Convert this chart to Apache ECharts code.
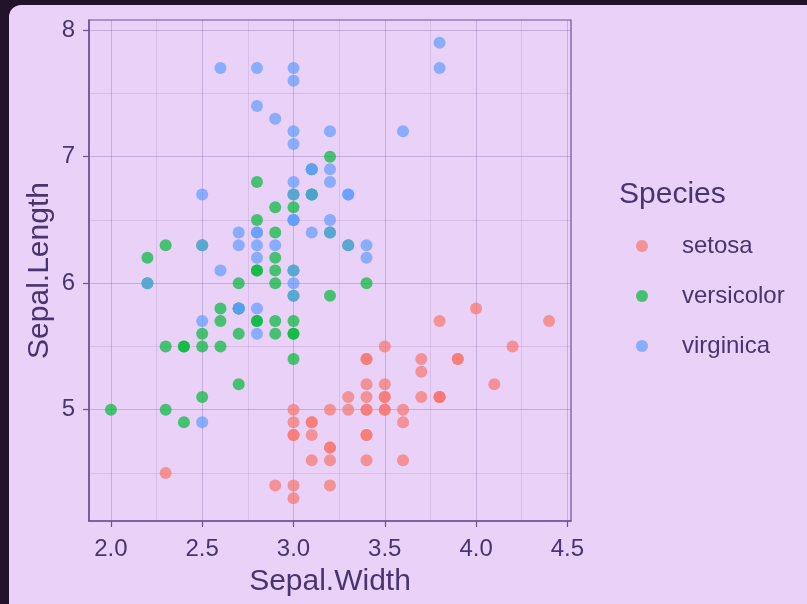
<!DOCTYPE html>
<html>
<head>
<meta charset="utf-8">
<script src="https://cdn.jsdelivr.net/npm/echarts@6/dist/echarts.min.js"></script>
<style>
html,body{margin:0;padding:0;background:#22122b;}
#c{width:807px;height:604px;}
</style>
</head>
<body>
<div id="c"></div>
<script>
// [Sepal.Width, Sepal.Length]
const setosa = [[3.5,5.1],[3.0,4.9],[3.2,4.7],[3.1,4.6],[3.6,5.0],[3.9,5.4],[3.4,4.6],[3.4,5.0],[2.9,4.4],[3.1,4.9],
[3.7,5.4],[3.4,4.8],[3.0,4.8],[3.0,4.3],[4.0,5.8],[4.4,5.7],[3.9,5.4],[3.5,5.1],[3.8,5.7],[3.8,5.1],
[3.4,5.4],[3.7,5.1],[3.6,4.6],[3.3,5.1],[3.4,4.8],[3.0,5.0],[3.4,5.0],[3.5,5.2],[3.4,5.2],[3.2,4.7],
[3.1,4.8],[3.4,5.4],[4.1,5.2],[4.2,5.5],[3.1,4.9],[3.2,5.0],[3.5,5.5],[3.6,4.9],[3.0,4.4],[3.4,5.1],
[3.5,5.0],[2.3,4.5],[3.2,4.4],[3.5,5.0],[3.8,5.1],[3.0,4.8],[3.8,5.1],[3.2,4.6],[3.7,5.3],[3.3,5.0]];
const versicolor = [[3.2,7.0],[3.2,6.4],[3.1,6.9],[2.3,5.5],[2.8,6.5],[2.8,5.7],[3.3,6.3],[2.4,4.9],[2.9,6.6],[2.7,5.2],
[2.0,5.0],[3.0,5.9],[2.2,6.0],[2.9,6.1],[2.9,5.6],[3.1,6.7],[3.0,5.6],[2.7,5.8],[2.2,6.2],[2.5,5.6],
[3.2,5.9],[2.8,6.1],[2.5,6.3],[2.8,6.1],[2.9,6.4],[3.0,6.6],[2.8,6.8],[3.0,6.7],[2.9,6.0],[2.6,5.7],
[2.4,5.5],[2.4,5.5],[2.7,5.8],[2.7,6.0],[3.0,5.4],[3.4,6.0],[3.1,6.7],[2.3,6.3],[3.0,5.6],[2.5,5.5],
[2.6,5.5],[3.0,6.1],[2.6,5.8],[2.3,5.0],[2.7,5.6],[3.0,5.7],[2.9,5.7],[2.9,6.2],[2.5,5.1],[2.8,5.7]];
const virginica = [[3.3,6.3],[2.7,5.8],[3.0,7.1],[2.9,6.3],[3.0,6.5],[3.0,7.6],[2.5,4.9],[2.9,7.3],[2.5,6.7],[3.6,7.2],
[3.2,6.5],[2.7,6.4],[3.0,6.8],[2.5,5.7],[2.8,5.8],[3.2,6.4],[3.0,6.5],[3.8,7.7],[2.6,7.7],[2.2,6.0],
[3.2,6.9],[2.8,5.6],[2.8,7.7],[2.7,6.3],[3.3,6.7],[3.2,7.2],[2.8,6.2],[3.0,6.1],[2.8,6.4],[3.0,7.2],
[2.8,7.4],[3.8,7.9],[2.8,6.4],[2.8,6.3],[2.6,6.1],[3.0,7.7],[3.4,6.3],[3.1,6.4],[3.0,6.0],[3.1,6.9],
[3.1,6.7],[3.1,6.9],[2.7,5.8],[3.2,6.8],[3.3,6.7],[3.0,6.7],[2.5,6.3],[3.0,6.5],[3.4,6.2],[3.0,5.9]];
const speciesNames = ['setosa','versicolor','virginica'];
const speciesColors = ['#F8766D','#00BA38','#619CFF'];
const xMajor = [2.0,2.5,3.0,3.5,4.0,4.5];
const xMinor = [2.25,2.75,3.25,3.75,4.25];
const yMajor = [5,6,7,8];
const yMinor = [4.5,5.5,6.5,7.5];

const txt = '#4a3470';
const axisCol = '#6c5494';
const font = 'Liberation Sans';
const chart = echarts.init(document.getElementById('c'));
const data = [setosa, versicolor, virginica];

function axisBase(extra){
  return Object.assign({
    type:'value', scale:false,
    axisLine:{show:true, onZero:false, lineStyle:{color:axisCol, width:1.6}},
    axisTick:{show:true, length:6, lineStyle:{color:axisCol, width:1.2}},
    splitLine:{show:true, lineStyle:{color:'rgba(110,80,150,0.28)', width:1}},
    axisLabel:{color:txt, fontSize:24, fontFamily:font}
  }, extra);
}

chart.setOption({
  backgroundColor:'transparent',
  animation:false,
  graphic:[
    {type:'rect', z:-10, silent:true, shape:{x:9,y:5,width:830,height:640,r:12}, style:{fill:'#e9d1f7'}},
    {type:'text', left:619, top:180, style:{text:'Species', fill:txt, font:'30px "Liberation Sans"'}}
  ],
  grid:{left:89, top:20, right:236, bottom:83, show:true, borderColor:axisCol, borderWidth:1.2},
  xAxis:[
    axisBase({min:1.88, max:4.52,
      axisTick:{show:true, length:6, customValues:xMajor, lineStyle:{color:axisCol, width:1.2}},
      axisLabel:{color:txt, fontSize:24, fontFamily:font, margin:16, customValues:xMajor,
        formatter:v=>v.toFixed(1)},
      name:'Sepal.Width', nameLocation:'middle', nameGap:46, nameMoveOverlap:false,
      nameTextStyle:{color:txt, fontSize:30, fontFamily:font}}),
    axisBase({min:1.88, max:4.52, position:'bottom',
      axisLine:{show:false},
      axisTick:{show:false, customValues:xMinor},
      axisLabel:{show:false, customValues:xMinor},
      splitLine:{show:true, lineStyle:{color:'rgba(110,80,150,0.14)', width:1}}})
  ],
  yAxis:[
    axisBase({min:4.12, max:8.08,
      axisTick:{show:true, length:6, customValues:yMajor, lineStyle:{color:axisCol, width:1.2}},
      axisLabel:{color:txt, fontSize:24, fontFamily:font, margin:14, customValues:yMajor, padding:[4,0,0,0]},
      name:'Sepal.Length', nameLocation:'middle', nameGap:34, nameMoveOverlap:false,
      nameTextStyle:{color:txt, fontSize:30, fontFamily:font}}),
    axisBase({min:4.12, max:8.08, position:'left',
      axisLine:{show:false},
      axisTick:{show:false, customValues:yMinor},
      axisLabel:{show:false, customValues:yMinor},
      splitLine:{show:true, lineStyle:{color:'rgba(110,80,150,0.14)', width:1}}})
  ],
  legend:{
    orient:'vertical', left:631, top:229, itemGap:26, itemWidth:12, itemHeight:12,
    icon:'circle', data:speciesNames,
    textStyle:{color:txt, fontSize:24, fontFamily:font, padding:[0,0,0,29]}
  },
  series: speciesNames.map((n,i)=>({
    name:n, type:'scatter', xAxisIndex:0, yAxisIndex:0,
    data:data[i], symbolSize:12,
    itemStyle:{color:speciesColors[i], opacity:0.7}
  }))
});
</script>
</body>
</html>
